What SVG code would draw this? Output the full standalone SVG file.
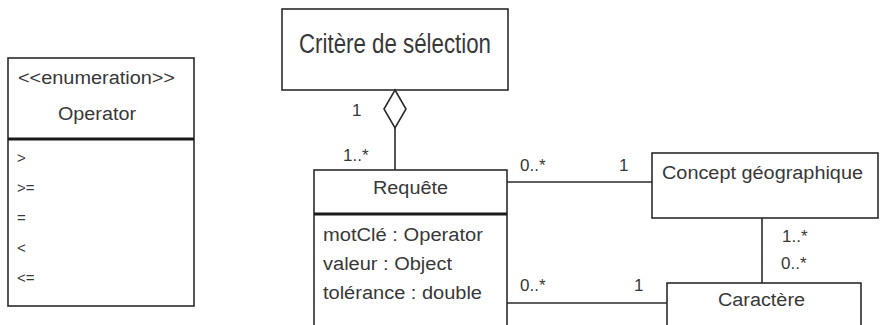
<svg xmlns="http://www.w3.org/2000/svg" width="880" height="325" viewBox="0 0 880 325">
<style>
.box{fill:#fff;stroke:#2b2b2b;stroke-width:1.6}
.sep{stroke:#1a1a1a;stroke-width:3}
.ln{stroke:#2b2b2b;stroke-width:1.6;fill:none}
text{font-family:"Liberation Sans",Arial,sans-serif;fill:#383838}
.t{font-size:18px;dominant-baseline:central}
.m{font-size:17px;dominant-baseline:central}
.e{font-size:15px;dominant-baseline:central}
</style>
<rect width="880" height="325" fill="#fff"/>
<g id="operator">
<rect class="box" x="8" y="58" width="186" height="248"/>
<line class="sep" x1="8" y1="139" x2="194" y2="139"/>
<text class="t" x="18" y="78" font-size="16" textLength="157" lengthAdjust="spacingAndGlyphs">&lt;&lt;enumeration&gt;&gt;</text>
<text class="t" x="58" y="114" textLength="78" lengthAdjust="spacingAndGlyphs">Operator</text>
<text class="e" x="17" y="157">&gt;</text>
<text class="e" x="17" y="187">&gt;=</text>
<text class="e" x="17" y="217">=</text>
<text class="e" x="17" y="247">&lt;</text>
<text class="e" x="17" y="277">&lt;=</text>
</g>
<g id="critere">
<rect class="box" x="282" y="9" width="226" height="81"/>
<text x="299" y="44" font-size="27" dominant-baseline="central" textLength="192" lengthAdjust="spacingAndGlyphs">Critère de sélection</text>
</g>
<g id="requete">
<rect class="box" x="314" y="170" width="193" height="160"/>
<line class="sep" x1="314" y1="214" x2="507" y2="214"/>
<text class="t" x="373" y="188" textLength="75" lengthAdjust="spacingAndGlyphs">Requête</text>
<text class="t" x="323" y="235" textLength="160" lengthAdjust="spacingAndGlyphs">motClé : Operator</text>
<text class="t" x="323" y="264" textLength="129" lengthAdjust="spacingAndGlyphs">valeur : Object</text>
<text class="t" x="323" y="293" textLength="159" lengthAdjust="spacingAndGlyphs">tolérance : double</text>
</g>
<g id="concept">
<rect class="box" x="652" y="153" width="226" height="65"/>
<text class="t" x="662" y="173" textLength="201" lengthAdjust="spacingAndGlyphs">Concept géographique</text>
</g>
<g id="caractere">
<rect class="box" x="667" y="283" width="194" height="50"/>
<text class="t" x="718" y="300" textLength="87" lengthAdjust="spacingAndGlyphs">Caractère</text>
</g>
<g id="connectors">
<polygon class="ln" points="395,90 406,109 395,128 384,109" fill="#fff"/>
<line class="ln" x1="395" y1="128" x2="395" y2="170"/>
<line class="ln" x1="507" y1="182" x2="652" y2="182"/>
<line class="ln" x1="762" y1="218" x2="762" y2="283"/>
<line class="ln" x1="507" y1="303" x2="667" y2="303"/>
<text class="m" x="352" y="110">1</text>
<text class="m" x="343" y="155">1..*</text>
<text class="m" x="520" y="165">0..*</text>
<text class="m" x="619" y="165">1</text>
<text class="m" x="782" y="236">1..*</text>
<text class="m" x="781" y="263">0..*</text>
<text class="m" x="520" y="285">0..*</text>
<text class="m" x="634" y="285">1</text>
</g>
</svg>
